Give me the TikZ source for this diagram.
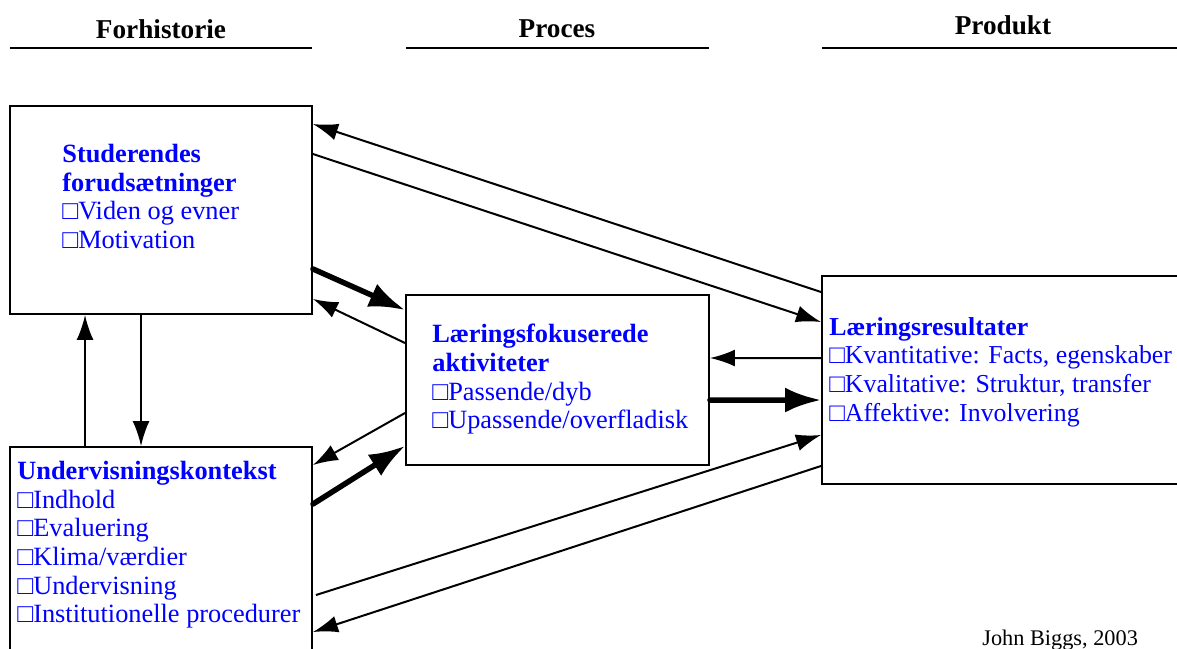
\documentclass[tikz,border=0pt]{standalone}
\usepackage{fontspec}
\setmainfont{Liberation Serif}
\usetikzlibrary{arrows.meta,calc}

\tikzstyle{box}=[draw,rectangle,line width=0.04cm,inner sep=0pt]
\tikzstyle{txt}=[anchor=north west,align=left,inner sep=0pt,text=blue,font=\fontsize{15}{16.3}\selectfont]
\tikzstyle{hd}=[font=\fontsize{15.5}{18}\selectfont\bfseries]
\tikzstyle{ed}=[->,line width=0.04cm]
\tikzstyle{big}=[-{Latex[length=0.72cm,width=0.5cm]},line width=0.11cm,line cap=round]

\begin{document}
\begin{tikzpicture}[x=0.02cm,y=-0.02cm,>={Latex[length=0.5cm,width=0.34cm]}]
  \useasboundingbox (0,0) rectangle (1177,649);

  % headings
  \node[hd] (forh) at (161,29) {Forhistorie};
  \node[hd] (proc) at (557,29) {Proces};
  \node[hd] (prod) at (1003,25) {Produkt};
  \draw[line width=0.04cm] (10,48) -- (312,48);
  \draw[line width=0.04cm] (406,48) -- (709,48);
  \draw[line width=0.04cm] (822,48) -- (1177,48);

  % boxes
  \node[box,minimum width=6.04cm,minimum height=4.16cm] (stud) at (161,210) {};
  \node[box,minimum width=6.04cm,minimum height=5.06cm] (kontekst) at (161,573.5) {};
  \node[box,minimum width=6.06cm,minimum height=3.4cm] (aktiv) at (557.5,380) {};
  \node[box,minimum width=7.56cm,minimum height=4.16cm] (result) at (1011,380) {};

  \node[txt] (studtxt) at (62,144) {\textbf{Studerendes}\\\textbf{forudsætninger}\\□Viden og evner\\□Motivation};
  \node[txt] (konttxt) at (17,461) {\textbf{Undervisningskontekst}\\□Indhold\\□Evaluering\\□Klima/værdier\\□Undervisning\\□Institutionelle procedurer};
  \node[txt] (aktivtxt) at (432,324) {\textbf{Læringsfokuserede}\\\textbf{aktiviteter}\\□Passende/dyb\\□Upassende/overfladisk};
  \node[txt,font=\fontsize{14.7}{16.3}\selectfont] (resulttxt) at (829,317) {\textbf{Læringsresultater}\\□Kvantitative: Facts, egenskaber\\□Kvalitative: Struktur, transfer\\□Affektive: Involvering};

  \node[anchor=base west,inner sep=0pt,font=\fontsize{12.7}{14}\selectfont] (kilde) at (982,645) {John Biggs, 2003};

  % forhistorie <-> produkt
  \path ($(result.north west)+(0,17)$) edge [ed] ($(stud.north east)+(0,19)$);
  \path ($(stud.north east)+(0,49)$) edge [ed] ($(result.north west)+(0,47)$);
  \path ($(kontekst.north east)+(3,149)$) edge [ed] ($(result.south west)+(0,-50)$);
  \path ($(result.south west)+(0,-19)$) edge [ed] ($(kontekst.north east)+(0,186)$);

  % forhistorie <-> proces
  \path ($(stud.south east)+(0,-46)$) edge [big] ($(aktiv.north west)+(0,16)$);
  \path ($(aktiv.north west)+(0,49)$) edge [ed] ($(stud.south east)+(0,-16)$);
  \path ($(aktiv.south west)+(0,-53)$) edge [ed] ($(kontekst.north east)+(0,19)$);
  \path ($(kontekst.north east)+(0,58)$) edge [big] ($(aktiv.south west)+(0,-20)$);

  % proces <-> produkt
  \path ($(result.north west)+(0,83)$) edge [ed] ($(aktiv.north east)+(0,64)$);
  \path ($(aktiv.north east)+(0,106)$) edge [big] ($(result.north west)+(0,125)$);

  % studerende <-> kontekst
  \path ($(stud.south west)+(132,0)$) edge [ed] ($(kontekst.north west)+(132,0)$);
  \path ($(kontekst.north west)+(76,0)$) edge [ed] ($(stud.south west)+(76,0)$);

\end{tikzpicture}
\end{document}
